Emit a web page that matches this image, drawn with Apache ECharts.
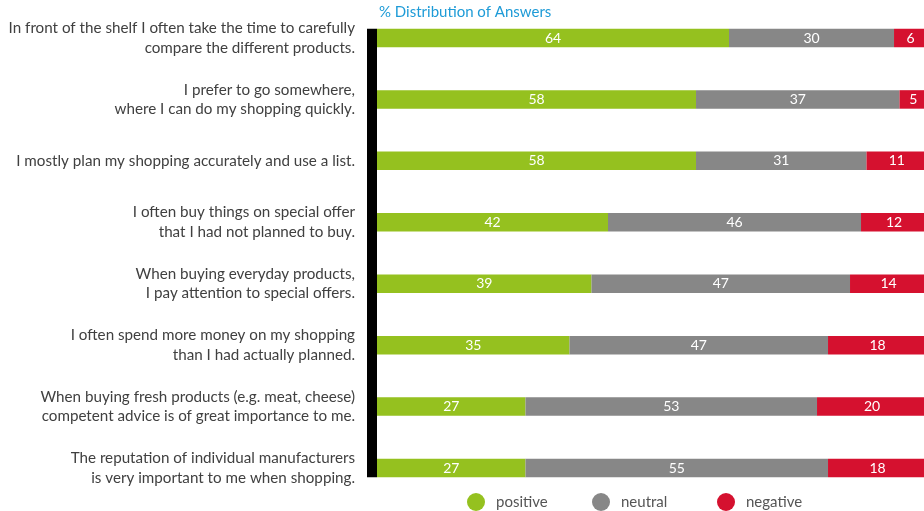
<!DOCTYPE html>
<html>
<head>
<meta charset="utf-8">
<script src="https://cdn.jsdelivr.net/npm/echarts@6/dist/echarts.min.js"></script>
<style>
  html, body { margin: 0; padding: 0; background: #fff; }
  #chart { width: 924px; height: 511px; }
</style>
</head>
<body>
<div id="chart"></div>
<script>
// Survey statements (top to bottom)
const statements = [
  'In front of the shelf I often take the time to carefully\ncompare the different products.',
  'I prefer to go somewhere,\nwhere I can do my shopping quickly.',
  'I mostly plan my shopping accurately and use a list.',
  'I often buy things on special offer\nthat I had not planned to buy.',
  'When buying everyday products,\nI pay attention to special offers.',
  'I often spend more money on my shopping\nthan I had actually planned.',
  'When buying fresh products (e.g. meat, cheese)\ncompetent advice is of great importance to me.',
  'The reputation of individual manufacturers\nis very important to me when shopping.'
];

// Share of answers in percent
const positive = [64, 58, 58, 42, 39, 35, 27, 27];
const neutral  = [30, 37, 31, 46, 47, 47, 53, 55];
const negative = [6, 5, 11, 12, 14, 18, 20, 18];

const seriesNames = ['positive', 'neutral', 'negative'];
const colors = ['#95c11f', '#878787', '#d5112f'];

const FONT = 'Lato, "Open Sans", sans-serif';

// The 100 % end runs a few pixels past the right edge of the canvas
const AXIS_MAX = 99.45;

const chart = echarts.init(document.getElementById('chart'), null, { renderer: 'canvas' });

function makeSeries(name, data, color) {
  return {
    name: name,
    type: 'bar',
    stack: 'total',
    data: data,
    barWidth: 18.5,
    clip: false,
    itemStyle: { color: color },
    label: {
      show: true,
      position: 'inside',
      color: '#fff',
      fontFamily: FONT,
      fontSize: 14
    },
    emphasis: { disabled: true }
  };
}

// One legend block per answer type, evenly spaced
const legendLeft = [467, 592, 717];
const legends = seriesNames.map((name, i) => ({
  bottom: 0,
  left: legendLeft[i],
  padding: 0,
  itemWidth: 18,
  itemHeight: 18,
  icon: 'circle',
  selectedMode: false,
  data: [name],
  textStyle: { color: '#555', fontFamily: FONT, fontSize: 15, padding: [0, 0, 0, 6] }
}));

chart.setOption({
  animation: false,
  color: colors,
  title: {
    text: '% Distribution of Answers',
    left: 379,
    top: 5,
    padding: 0,
    textStyle: { color: '#1e9bd7', fontFamily: FONT, fontSize: 15, fontWeight: 'normal' }
  },
  grid: { left: 377, right: 0, top: 7.3, bottom: 12.3, containLabel: false },
  xAxis: {
    type: 'value',
    min: 0,
    max: AXIS_MAX,
    show: false
  },
  yAxis: {
    type: 'category',
    inverse: true,
    data: statements,
    axisLine: { show: false },
    axisTick: { show: false },
    axisLabel: {
      margin: 22,
      color: '#404040',
      fontFamily: FONT,
      fontSize: 15.2,
      lineHeight: 19.5,
      align: 'right'
    }
  },
  legend: legends,
  series: [
    makeSeries(seriesNames[0], positive, colors[0]),
    makeSeries(seriesNames[1], neutral, colors[1]),
    makeSeries(seriesNames[2], negative, colors[2])
  ]
});

// Thick black axis bar spanning from the top of the first bar to the bottom of the last
const first = chart.convertToPixel({ yAxisIndex: 0 }, 0);
const last = chart.convertToPixel({ yAxisIndex: 0 }, statements.length - 1);
const x0 = chart.convertToPixel({ xAxisIndex: 0 }, 0);
const half = 9.25;
chart.setOption({
  graphic: [{
    type: 'rect',
    shape: { x: x0 - 10, y: first - half, width: 10, height: (last - first) + 2 * half },
    style: { fill: '#000' },
    z: 10
  }]
});
</script>
</body>
</html>
